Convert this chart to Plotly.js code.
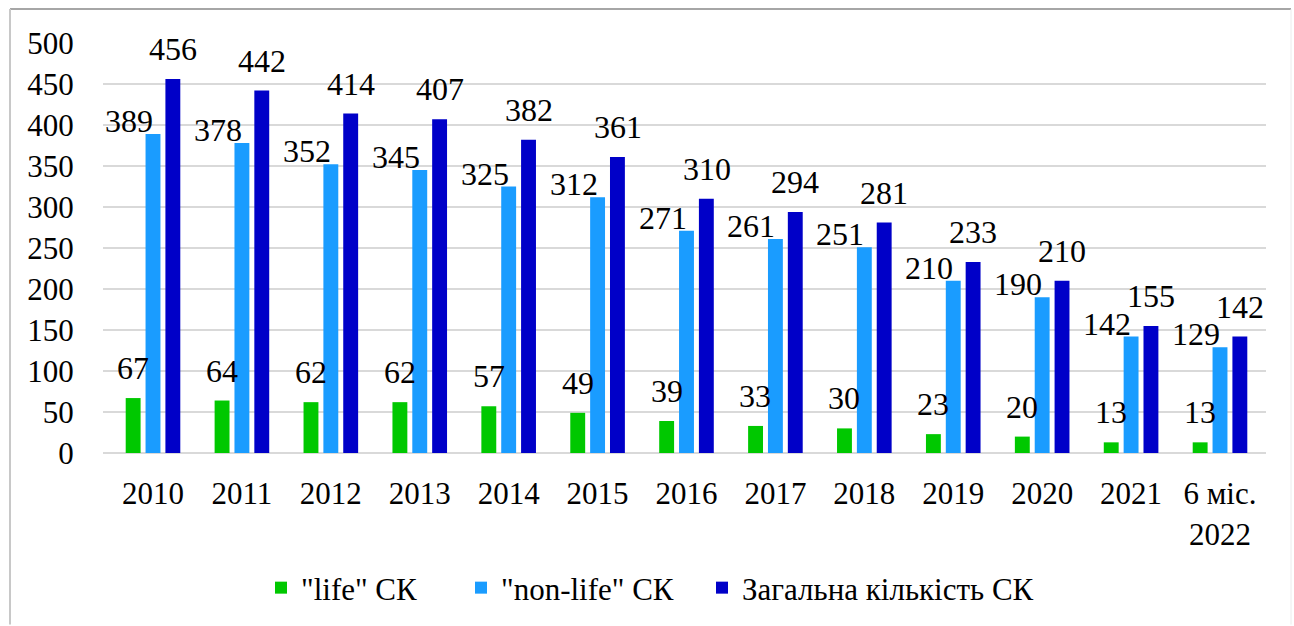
<!DOCTYPE html>
<html>
<head>
<meta charset="utf-8">
<script src="https://cdn.plot.ly/plotly-3.0.1.min.js"></script>
<style>
html,body{margin:0;padding:0;background:#fff;}
#chart{width:1294px;height:626px;}
</style>
</head>
<body>
<div id="chart"></div>
<script>
// ---- data ----
var categories = ["2010","2011","2012","2013","2014","2015","2016","2017","2018","2019","2020","2021","6 міс.<br>2022"];
var lifeValues = [67,64,62,62,57,49,39,33,30,23,20,13,13];
var nonLifeValues = [389,378,352,345,325,312,271,261,251,210,190,142,129];
var totalValues = [456,442,414,407,382,361,310,294,281,233,210,155,142];
var seriesNames = ['"life" СК', '"non-life" СК', 'Загальна кількість СК'];
var yTicks = [0,50,100,150,200,250,300,350,400,450,500];

// ---- style ----
var FONT = 'Liberation Serif, Times New Roman, serif';
var colors = ['#00c800', '#1a9cff', '#0000c8'];
var legendWidths = [155, 196, 300];
var W = 1294, H = 626;
var M = {l:103, r:28, t:43, b:172};
var plotW = W - M.l - M.r, plotH = H - M.t - M.b;
function px2paperX(px){ return (px - M.l)/plotW; }
function px2paperY(py){ return (H - M.b - py)/plotH; }

var seriesValues = [lifeValues, nonLifeValues, totalValues];
var traces = seriesValues.map(function(vals, i){
  return {
    type:'bar', name: seriesNames[i], x: categories, y: vals,
    marker:{color: colors[i]},
    legendwidth: legendWidths[i]
  };
});

// data labels
var labelShift = [{dx:-20, dy:10}, {dx:-24, dy:-7}, {dx:20, dy:10}];
var annotations = [];
seriesValues.forEach(function(vals, s){
  vals.forEach(function(v, i){
    annotations.push({
      x: i, y: v, xref:'x', yref:'y',
      text: String(v), showarrow:false,
      xanchor:'center', yanchor:'bottom',
      xshift: labelShift[s].dx, yshift: labelShift[s].dy,
      font:{family:FONT, size:32, color:'#000'}
    });
  });
});

var shapes = [
  {type:'line', xref:'paper', yref:'paper', x0:px2paperX(10), x1:px2paperX(1291), y0:px2paperY(9), y1:px2paperY(9), line:{color:'#a6a6a6', width:2}},
  {type:'line', xref:'paper', yref:'paper', x0:px2paperX(10), x1:px2paperX(10), y0:px2paperY(9), y1:px2paperY(626), line:{color:'#c8c8c8', width:2}},
  {type:'line', xref:'paper', yref:'paper', x0:px2paperX(1291), x1:px2paperX(1291), y0:px2paperY(9), y1:px2paperY(626), line:{color:'#ececec', width:1}}
];

var layout = {
  width: W, height: H,
  margin: M,
  paper_bgcolor:'#fff', plot_bgcolor:'#fff',
  font:{family:FONT, size:31, color:'#000'},
  barmode:'group', bargap:0.33, bargroupgap:0.25,
  showlegend:true,
  legend:{orientation:'h', x:px2paperX(261), xanchor:'left', y:px2paperY(588), yanchor:'middle',
          font:{family:FONT, size:31, color:'#000'}, traceorder:'normal', entrywidthmode:'pixels'},
  xaxis:{type:'category', showgrid:false, zeroline:false, showline:false, ticks:'outside', ticklen:13, tickcolor:'rgba(0,0,0,0)',
         tickfont:{family:FONT, size:31, color:'#000'}},
  yaxis:{range:[0,500], tickvals:yTicks, showgrid:true, gridcolor:'#d9d9d9', gridwidth:2,
         zeroline:true, zerolinecolor:'#d9d9d9', zerolinewidth:2, showline:false, ticks:'outside', ticklen:22, tickcolor:'rgba(0,0,0,0)',
         tickfont:{family:FONT, size:31, color:'#000'}},
  annotations: annotations,
  shapes: shapes
};

Plotly.newPlot('chart', traces, layout, {displayModeBar:false});
</script>
</body>
</html>
